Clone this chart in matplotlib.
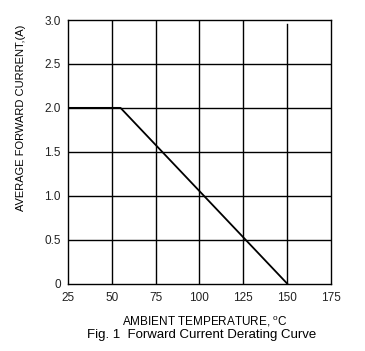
import matplotlib
matplotlib.use("Agg")
from matplotlib import pyplot as plt

## 降额曲线数据：环境温度(°C) 与 平均正向电流(A)
temp = [25, 55, 150]
current = [2.0, 2.0, 0.0]

x_ticks = [25, 50, 75, 100, 125, 150, 175]
y_ticks = [0, 0.5, 1.0, 1.5, 2.0, 2.5, 3.0]
y_tick_labels = ["0", "0.5", "1.0", "1.5", "2.0", "2.5", "3.0"]

plt.rcParams["font.family"] = ["Liberation Sans", "DejaVu Sans"]

fig = plt.figure(figsize=(3.65, 3.51), dpi=100)
ax = fig.add_axes([0.186, 0.192, 0.721, 0.751])

## 网格线（150 那条在原图顶部没有接上边框）
for x in x_ticks[1:-1]:
    top = 0.985 if x == 150 else 1.0
    ax.axvline(x, ymax=top, color="black", lw=1.0, zorder=1)
for y in y_ticks[1:-1]:
    ax.axhline(y, color="black", lw=1.0, zorder=1)

ax.plot(temp, current, color="black", lw=1.3, zorder=2)

ax.set_xlim(25, 175)
ax.set_ylim(0, 3.0)
ax.set_xticks(x_ticks)
ax.set_yticks(y_ticks)
ax.set_yticklabels(y_tick_labels)
ax.tick_params(length=0, labelsize=8.5, colors="#222222")
ax.tick_params(axis="x", pad=6)
ax.tick_params(axis="y", pad=5)
for s in ax.spines.values():
    s.set_linewidth(1.0)

fig.text(0.057, 0.664, "AVERAGE FORWARD CURRENT,(A)", rotation=90,
         ha="center", va="center", fontsize=8)
fig.text(0.562, 0.085, "AMBIENT TEMPERATURE, $^{\\mathregular{o}}$C",
         ha="center", va="center", fontsize=8.5)
fig.text(0.553, 0.045, "Fig. 1  Forward Current Derating Curve",
         ha="center", va="center", fontsize=9.5)

fig.savefig("out.png", dpi=100, facecolor="white")
